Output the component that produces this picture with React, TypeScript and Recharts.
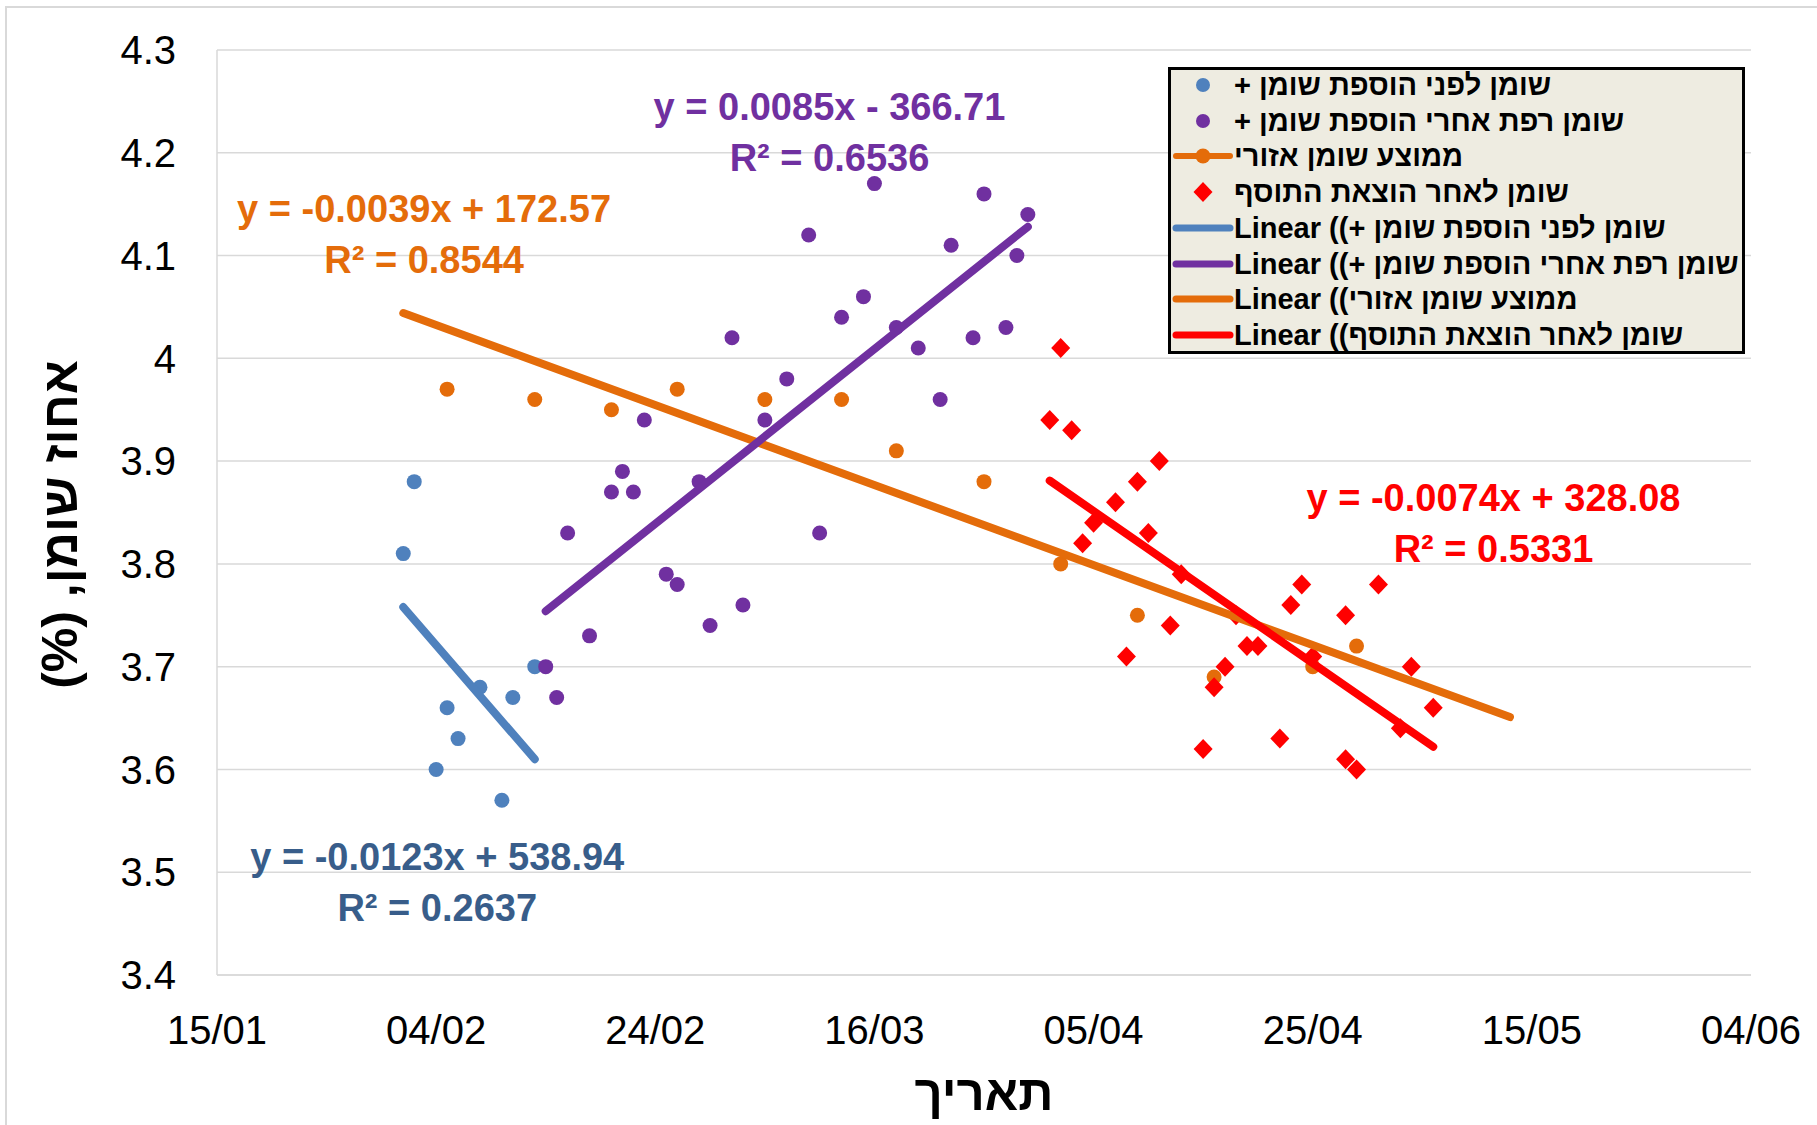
import React from 'react';
import { ScatterChart, Scatter, XAxis, YAxis, CartesianGrid, ReferenceDot, Legend, Label } from 'recharts';

// x = day of year (15 = 15/01), y = fat %
const BLUE_DAYS = [32, 33, 35, 36, 37, 39, 41, 42, 44];
const BLUE_FAT = [3.81, 3.88, 3.6, 3.66, 3.63, 3.68, 3.57, 3.67, 3.7];

const PURPLE_DAYS = [45, 46, 47, 49, 51, 52, 53, 54, 56, 57, 59, 60, 62, 63, 65, 67, 69, 70, 72, 74, 75, 77, 79, 81, 82, 84, 85, 87, 88, 89];
const PURPLE_FAT = [3.7, 3.67, 3.83, 3.73, 3.87, 3.89, 3.87, 3.94, 3.79, 3.78, 3.88, 3.74, 4.02, 3.76, 3.94, 3.98, 4.12, 3.83, 4.04, 4.06, 4.17, 4.03, 4.01, 3.96, 4.11, 4.02, 4.16, 4.03, 4.1, 4.14];

const ORANGE_DAYS = [36, 44, 51, 57, 65, 72, 77, 85, 92, 99, 106, 115, 119];
const ORANGE_FAT = [3.97, 3.96, 3.95, 3.97, 3.96, 3.96, 3.91, 3.88, 3.8, 3.75, 3.69, 3.7, 3.72];

const RED_DAYS = [91, 92, 93, 94, 95, 97, 98, 99, 100, 101, 102, 103, 105, 106, 107, 108, 109, 110, 112, 113, 114, 115, 118, 118, 119, 121, 123, 124, 126];
const RED_FAT = [3.94, 4.01, 3.93, 3.82, 3.84, 3.86, 3.71, 3.88, 3.83, 3.9, 3.74, 3.79, 3.62, 3.68, 3.7, 3.75, 3.72, 3.72, 3.63, 3.76, 3.78, 3.71, 3.75, 3.61, 3.6, 3.78, 3.64, 3.7, 3.66];

// trend line ends
const BLUE_TREND_DAYS = [32, 44];
const BLUE_TREND_FAT = [3.758, 3.61];
const PURPLE_TREND_DAYS = [45, 89];
const PURPLE_TREND_FAT = [3.754, 4.128];
const ORANGE_TREND_DAYS = [32, 133];
const ORANGE_TREND_FAT = [4.044, 3.651];
const RED_TREND_DAYS = [91, 126];
const RED_TREND_FAT = [3.881, 3.622];

const X_TICKS = [15, 35, 55, 75, 95, 115, 135, 155];
const X_TICK_LABELS = ['15/01', '04/02', '24/02', '16/03', '05/04', '25/04', '15/05', '04/06'];
const Y_TICKS = [3.4, 3.5, 3.6, 3.7, 3.8, 3.9, 4.0, 4.1, 4.2, 4.3];

const LEGEND_LABELS = [
  '+ שומן לפני הוספת שומן',
  '+ שומן רפת אחרי הוספת שומן',
  'ממוצע שומן אזורי',
  'שומן לאחר הוצאת התוסף',
  'Linear ((+ שומן לפני הוספת שומן',
  'Linear ((+ שומן רפת אחרי הוספת שומן',
  'Linear ((ממוצע שומן אזורי',
  'Linear ((שומן לאחר הוצאת התוסף',
];

const EQ_BLUE = ['y = -0.0123x + 538.94', 'R² = 0.2637'];
const EQ_PURPLE = ['y = 0.0085x - 366.71', 'R² = 0.6536'];
const EQ_ORANGE = ['y = -0.0039x + 172.57', 'R² = 0.8544'];
const EQ_RED = ['y = -0.0074x + 328.08', 'R² = 0.5331'];

const BLUE = '#4F81BD';
const BLUE_TEXT = '#385D8A';
const PURPLE = '#7030A0';
const ORANGE = '#E46C0A';
const RED = '#FF0000';
const GRID = '#D9D9D9';

const TICK_FONT = "'Liberation Sans', Arial, sans-serif";
const BOLD_FONT = "'Liberation Sans', Arial, sans-serif";

const pts = (xs: number[], ys: number[]) => xs.map((x, i) => ({ x, y: ys[i] }));

const dot = (color: string) => (p: any) => <circle cx={p.cx} cy={p.cy} r={7.5} fill={color} />;

function Diamond(p: any) {
  const { cx, cy } = p;
  return <polygon points={`${cx},${cy - 10} ${cx + 9.5},${cy} ${cx},${cy + 10} ${cx - 9.5},${cy}`} fill={RED} />;
}

const noDot = () => <g />;

const eqShape = (lines: string[], color: string) => (p: any) => (
  <g fontFamily={BOLD_FONT} fontWeight="bold" fontSize={38} fill={color} textAnchor="middle">
    <text x={p.cx} y={p.cy - 25 + 14}>{lines[0]}</text>
    <text x={p.cx} y={p.cy + 26 + 14}>{lines[1]}</text>
  </g>
);

function LegendBox() {
  const icons = [
    <circle cx={35} cy={18} r={7} fill={BLUE} />,
    <circle cx={35} cy={18} r={7} fill={PURPLE} />,
    <g>
      <line x1={8} y1={18} x2={62} y2={18} stroke={ORANGE} strokeWidth={6} strokeLinecap="round" />
      <circle cx={35} cy={18} r={7.5} fill={ORANGE} />
    </g>,
    <polygon points="35,8 44.5,18 35,28 25.5,18" fill={RED} />,
    <line x1={8} y1={18} x2={62} y2={18} stroke={BLUE} strokeWidth={7} strokeLinecap="round" />,
    <line x1={8} y1={18} x2={62} y2={18} stroke={PURPLE} strokeWidth={7} strokeLinecap="round" />,
    <line x1={8} y1={18} x2={62} y2={18} stroke={ORANGE} strokeWidth={7} strokeLinecap="round" />,
    <line x1={8} y1={18} x2={62} y2={18} stroke={RED} strokeWidth={7} strokeLinecap="round" />,
  ];
  return (
    <div
      style={{
        position: 'relative',
        boxSizing: 'border-box',
        width: 577,
        height: 287,
        background: '#EEECE1',
        border: '3px solid #000',
      }}
    >
      {LEGEND_LABELS.map((t, i) => (
        <div key={i} style={{ position: 'absolute', left: -3, top: -3 + i * 35.7, height: 36, width: 577 }}>
          <svg width={66} height={36} style={{ position: 'absolute', left: 0, top: 0 }}>
            {icons[i]}
          </svg>
          <div
            style={{
              position: 'absolute',
              left: 66,
              top: 0,
              lineHeight: '36px',
              fontFamily: BOLD_FONT,
              fontWeight: 'bold',
              fontSize: 29,
              color: '#000',
              whiteSpace: 'nowrap',
              direction: 'ltr',
            }}
          >
            {t}
          </div>
        </div>
      ))}
    </div>
  );
}

function YTitle(props: any) {
  const vb = props.viewBox;
  const cx = vb.x + 60;
  const cy = vb.y + vb.height / 2 + 12;
  return (
    <text
      x={cx}
      y={cy + 17}
      transform={`rotate(-90 ${cx} ${cy})`}
      textAnchor="middle"
      direction="rtl"
      style={{ direction: 'rtl' }}
      fontFamily={BOLD_FONT}
      fontWeight="bold"
      fontSize={50}
      fill="#000"
    >
      אחוז שומן, (%)
    </text>
  );
}

function XTitle(props: any) {
  const vb = props.viewBox;
  return (
    <text
      x={vb.x + vb.width / 2}
      y={vb.y + 135}
      textAnchor="middle"
      fontFamily={BOLD_FONT}
      fontWeight="bold"
      fontSize={49}
      fill="#000"
    >
      תאריך
    </text>
  );
}

export default function App() {
  return (
    <div style={{ position: 'relative', width: 1817, height: 1125, background: '#fff', overflow: 'hidden' }}>
      <style>{'body{margin:0}'}</style>
      <div style={{ position: 'absolute', left: 5, top: 6, right: -10, bottom: -10, borderLeft: `2px solid ${GRID}`, borderTop: `2px solid ${GRID}` }} />
      <ScatterChart width={1817} height={1125} margin={{ top: 50, right: 66, bottom: 0, left: 0 }}>
        <CartesianGrid vertical={false} stroke={GRID} strokeWidth={1.5} />
        <XAxis
          type="number"
          dataKey="x"
          domain={[15, 155]}
          ticks={X_TICKS}
          tickFormatter={(v: number) => X_TICK_LABELS[X_TICKS.indexOf(v)]}
          height={150}
          axisLine={{ stroke: GRID, strokeWidth: 1.5 }}
          tickLine={false}
          tickSize={0}
          tickMargin={41}
          tick={{ fill: '#000', fontSize: 40, fontFamily: TICK_FONT }}
          allowDataOverflow
        >
          <Label content={XTitle} />
        </XAxis>
        <YAxis
          type="number"
          dataKey="y"
          domain={[3.4, 4.3]}
          ticks={Y_TICKS}
          tickFormatter={(v: number) => String(+v.toFixed(1))}
          width={217}
          axisLine={{ stroke: GRID, strokeWidth: 1.5 }}
          tickLine={false}
          tickSize={0}
          tickMargin={41}
          tick={{ fill: '#000', fontSize: 40, fontFamily: TICK_FONT }}
          allowDataOverflow
        >
          <Label content={YTitle} />
        </YAxis>

        <Scatter name={LEGEND_LABELS[0]} data={pts(BLUE_DAYS, BLUE_FAT)} shape={dot(BLUE)} isAnimationActive={false} />
        <Scatter name={LEGEND_LABELS[1]} data={pts(PURPLE_DAYS, PURPLE_FAT)} shape={dot(PURPLE)} isAnimationActive={false} />
        <Scatter name={LEGEND_LABELS[2]} data={pts(ORANGE_DAYS, ORANGE_FAT)} shape={dot(ORANGE)} isAnimationActive={false} />
        <Scatter name={LEGEND_LABELS[3]} data={pts(RED_DAYS, RED_FAT)} shape={Diamond} isAnimationActive={false} />

        <Scatter
          name={LEGEND_LABELS[6]}
          data={pts(ORANGE_TREND_DAYS, ORANGE_TREND_FAT)}
          line={{ stroke: ORANGE, strokeWidth: 8, strokeLinecap: 'round' }}
          shape={noDot}
          isAnimationActive={false}
        />
        <Scatter
          name={LEGEND_LABELS[4]}
          data={pts(BLUE_TREND_DAYS, BLUE_TREND_FAT)}
          line={{ stroke: BLUE, strokeWidth: 8, strokeLinecap: 'round' }}
          shape={noDot}
          isAnimationActive={false}
        />
        <Scatter
          name={LEGEND_LABELS[5]}
          data={pts(PURPLE_TREND_DAYS, PURPLE_TREND_FAT)}
          line={{ stroke: PURPLE, strokeWidth: 8, strokeLinecap: 'round' }}
          shape={noDot}
          isAnimationActive={false}
        />
        <Scatter
          name={LEGEND_LABELS[7]}
          data={pts(RED_TREND_DAYS, RED_TREND_FAT)}
          line={{ stroke: RED, strokeWidth: 8, strokeLinecap: 'round' }}
          shape={noDot}
          isAnimationActive={false}
        />

        <ReferenceDot x={33.9} y={4.122} r={0} shape={eqShape(EQ_ORANGE, ORANGE)} />
        <ReferenceDot x={70.9} y={4.221} r={0} shape={eqShape(EQ_PURPLE, PURPLE)} />
        <ReferenceDot x={131.5} y={3.841} r={0} shape={eqShape(EQ_RED, RED)} />
        <ReferenceDot x={35.1} y={3.491} r={0} shape={eqShape(EQ_BLUE, BLUE_TEXT)} />

        <Legend
          layout="horizontal"
          verticalAlign="middle"
          align="center"
          wrapperStyle={{ left: 1168, top: 67, width: 577, height: 287 }}
          content={() => <LegendBox />}
        />
      </ScatterChart>
    </div>
  );
}
